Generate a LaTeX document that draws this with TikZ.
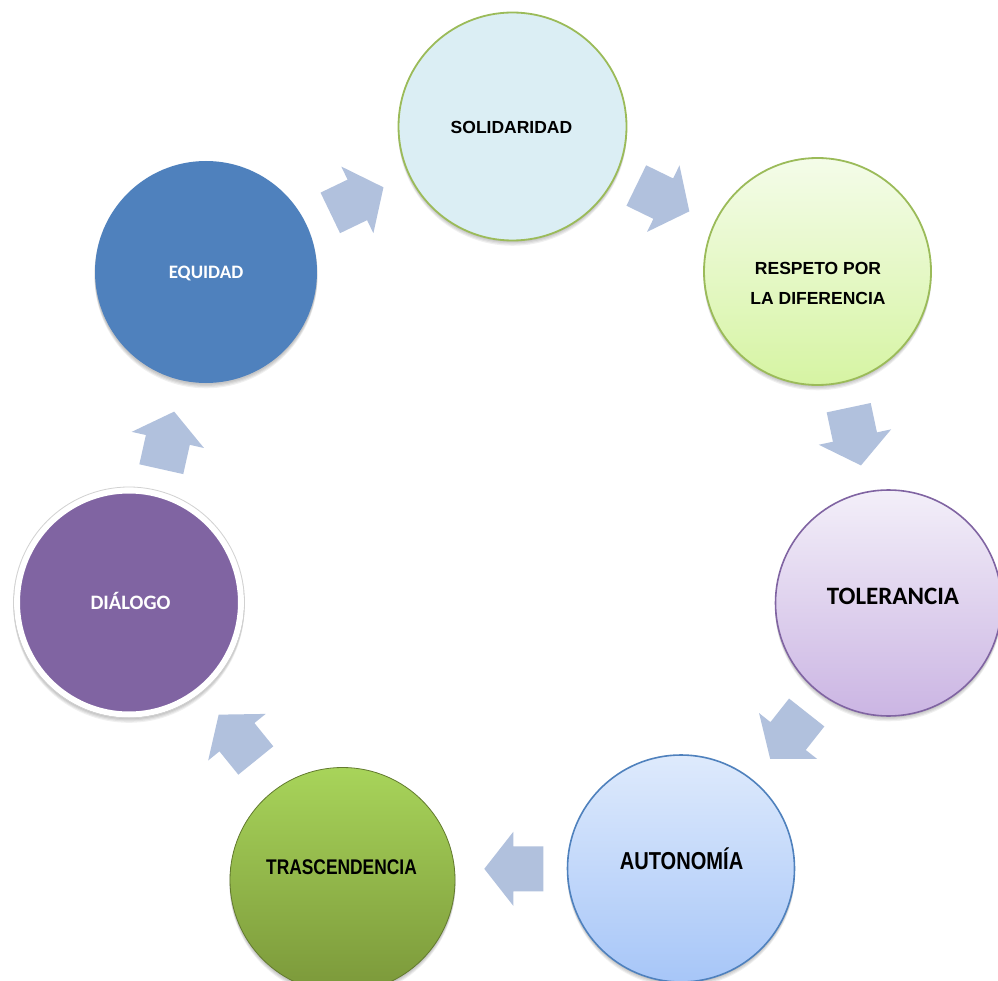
\documentclass[tikz,border=0pt]{standalone}
\usepackage{fontspec}
\setmainfont{Liberation Sans}
\newfontfamily\narrowfont[FakeStretch=0.82]{Liberation Sans}
\newfontfamily\calfont{Carlito}
\definecolor{arrowc}{HTML}{B1C1DD}
\definecolor{olgreen}{HTML}{9BBB59}
\definecolor{solfill}{HTML}{DBEEF4}
\definecolor{resptop}{HTML}{F4FCE9}
\definecolor{respbot}{HTML}{D6F4A3}
\definecolor{toltop}{HTML}{F3EFF9}
\definecolor{tolbot}{HTML}{CBB5E3}
\definecolor{tolline}{HTML}{8064A2}
\definecolor{auttop}{HTML}{DEEAFC}
\definecolor{autbot}{HTML}{A7C6F8}
\definecolor{autline}{HTML}{4F81BD}
\definecolor{trtop}{HTML}{A8D45A}
\definecolor{trbot}{HTML}{7B983A}
\definecolor{dialfill}{HTML}{8064A2}
\definecolor{eqfill}{HTML}{4F81BD}
\tikzset{
  disc/.style={circle, inner sep=0pt, minimum size=#1},
  lbl/.style={inner sep=0pt, align=center, text depth=0pt},
  blockarr/.style={fill=arrowc, draw=none},
}
\newcommand{\shadowdisc}[3]{% x, y, radius
  \foreach \k in {2,4,6,8}{
    \fill[black, opacity=0.06] (#1,#2+\k*0.6) circle[radius=#3+0.5];
  }
}
\newcommand{\blockarrow}[4]{% name, x, y, angle
  \coordinate (#1) at (#2,#3);
  \begin{scope}[shift={(#1)}, rotate=#4]
    \fill[blockarr] (0,22.5) -- (30,22.5) -- (30,37) -- (59,0) -- (30,-37) -- (30,-22.5) -- (0,-22.5) -- cycle;
  \end{scope}
}
\begin{document}
\begin{tikzpicture}[x=1pt, y=-1pt]
\useasboundingbox (0,0) rectangle (998,981);
\clip (0,0) rectangle (998,981);
\fill[white] (0,0) rectangle (998,981);

% shadows
\shadowdisc{512.5}{126.5}{114}
\shadowdisc{817.5}{271.5}{113.5}
\shadowdisc{888.5}{603}{113}
\shadowdisc{681}{868.5}{113.5}
\shadowdisc{342.5}{880}{112.5}
\shadowdisc{129}{602.5}{115}
\shadowdisc{206}{272}{111}

% circles
\node[disc=228pt, fill=solfill, draw=olgreen, line width=1.8pt] (sol) at (512.5,126.5) {};
\node[disc=227pt, top color=resptop, bottom color=respbot, draw=olgreen, line width=1.8pt] (resp) at (817.5,271.5) {};
\node[disc=226pt, top color=toltop, bottom color=tolbot, draw=tolline, line width=1.6pt] (tol) at (888.5,603) {};
\node[disc=227pt, top color=auttop, bottom color=autbot, draw=autline, line width=1.6pt] (aut) at (681,868.5) {};
\node[disc=225pt, top color=trtop, bottom color=trbot, draw=trbot!80!black, line width=0.8pt] (tras) at (342.5,880) {};
\node[disc=224pt, fill=dialfill, draw=white, line width=6pt] (dial) at (129,602.5) {};
\draw[black!18, line width=0.8pt] (dial.center) circle[radius=115.5];
\node[disc=222pt, fill=eqfill] (eq) at (206,272) {};

% labels
\node[lbl, text height=12.5pt, font=\bfseries\fontsize{17.5}{30}\selectfont] (tsol) at (511.5,127) {SOLIDARIDAD};
\node[lbl, font=\bfseries\fontsize{17.5}{30}\selectfont] (tresp) at (818,283.5) {RESPETO POR\\LA DIFERENCIA};
\node[lbl, text height=16pt, font=\calfont\bfseries\fontsize{25}{30}\selectfont] (ttol) at (893,596) {TOLERANCIA};
\node[lbl, text height=17pt, font=\narrowfont\bfseries\fontsize{24.5}{30}\selectfont] (taut) at (681.5,861) {AUTONOMÍA};
\node[lbl, text height=15pt, font=\narrowfont\bfseries\fontsize{21.2}{30}\selectfont] (ttras) at (341.5,867) {TRASCENDENCIA};
\node[lbl, text height=13.3pt, text=white, font=\calfont\bfseries\fontsize{20.5}{30}\selectfont] (tdial) at (130.5,603) {DIÁLOGO};
\node[lbl, text height=12.5pt, text=white, font=\calfont\bfseries\fontsize{19}{30}\selectfont] (teq) at (206,272) {EQUIDAD};

% block arrows
\blockarrow{a1}{330.3}{212.9}{25.7}
\blockarrow{a2}{636.3}{185.5}{-26}
\blockarrow{a3}{848.7}{407.7}{-78}
\blockarrow{a4}{806.7}{712.5}{-128.3}
\blockarrow{a5}{543.3}{868.8}{180}
\blockarrow{a6}{255.8}{760.5}{129}
\blockarrow{a7}{161.3}{469.2}{77.4}
\end{tikzpicture}
\end{document}
